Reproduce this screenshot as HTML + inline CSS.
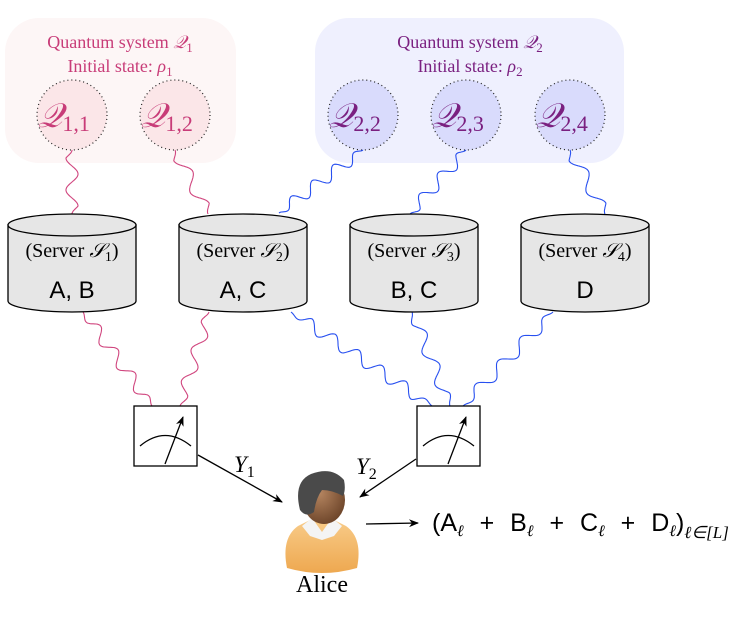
<!DOCTYPE html>
<html><head><meta charset="utf-8"><style>
html,body{margin:0;padding:0;background:#fff;}
svg{display:block;}
text{font-family:"Liberation Serif",serif;}
.sans{font-family:"Liberation Sans",sans-serif;}
</style></head><body>
<svg id="s" width="744" height="618" viewBox="0 0 744 618" xmlns="http://www.w3.org/2000/svg">
<defs>
<marker id="ah" markerWidth="10" markerHeight="8" refX="9" refY="4" orient="auto" markerUnits="userSpaceOnUse">
<path d="M0,0 L10,4 L0,8 L3,4 z" fill="#000"/></marker>
<radialGradient id="face" cx="0.4" cy="0.35" r="0.7"><stop offset="0" stop-color="#b58560"/><stop offset="1" stop-color="#6b4328"/></radialGradient>
<linearGradient id="body" x1="0" y1="0" x2="0" y2="1"><stop offset="0" stop-color="#f8cb88"/><stop offset="1" stop-color="#eea850"/></linearGradient>
</defs>
<rect x="5" y="18" width="231" height="145" rx="34" fill="#fdf6f6"/>
<rect x="315" y="18" width="309" height="145" rx="34" fill="#eff0fe"/>
<text x="120" y="48" text-anchor="middle" font-size="18" fill="#c83c78">Quantum system <tspan font-style="italic">𝒬</tspan><tspan font-size="13" dy="4">1</tspan></text>
<text x="120" y="72" text-anchor="middle" font-size="18" fill="#c83c78">Initial state: <tspan font-style="italic">ρ</tspan><tspan font-size="13" dy="4">1</tspan></text>
<text x="470" y="48" text-anchor="middle" font-size="18" fill="#7a2080">Quantum system <tspan font-style="italic">𝒬</tspan><tspan font-size="13" dy="4">2</tspan></text>
<text x="470" y="72" text-anchor="middle" font-size="18" fill="#7a2080">Initial state: <tspan font-style="italic">ρ</tspan><tspan font-size="13" dy="4">2</tspan></text>
<g stroke="#222" stroke-width="1.2" stroke-dasharray="1 3">
<circle cx="72" cy="115" r="35" fill="#fbe6e8"/>
<circle cx="175" cy="115" r="35" fill="#fbe6e8"/>
<circle cx="363" cy="115" r="35" fill="#d9dbfc"/>
<circle cx="466" cy="115" r="35" fill="#d9dbfc"/>
<circle cx="570" cy="115" r="35" fill="#d9dbfc"/>
</g>
<g font-size="34" font-style="italic" fill="#c83c78">
<text x="38" y="127">𝒬<tspan font-style="normal" font-size="22" dy="4">1,1</tspan></text>
<text x="141" y="127">𝒬<tspan font-style="normal" font-size="22" dy="4">1,2</tspan></text>
</g>
<g font-size="34" font-style="italic" fill="#7a2080">
<text x="329" y="127">𝒬<tspan font-style="normal" font-size="22" dy="4">2,2</tspan></text>
<text x="432" y="127">𝒬<tspan font-style="normal" font-size="22" dy="4">2,3</tspan></text>
<text x="536" y="127">𝒬<tspan font-style="normal" font-size="22" dy="4">2,4</tspan></text>
</g>
<g id="waves" fill="none" stroke-width="1.1"></g>
<g id="cyl"></g>
<g stroke="#000" stroke-width="1.3" fill="#fff">
<rect x="134" y="406" width="63" height="60"/>
<rect x="417" y="406" width="63" height="60"/>
</g>
<g stroke="#000" stroke-width="1.3" fill="none">
<path d="M140,446 Q165,425 191,446"/>
<path d="M423,446 Q448,425 474,446"/>
<line x1="165" y1="464" x2="183" y2="417" marker-end="url(#ah)"/>
<line x1="448" y1="464" x2="466" y2="417" marker-end="url(#ah)"/>
<line x1="198" y1="455" x2="282" y2="502" marker-end="url(#ah)"/>
<line x1="416" y1="459" x2="360" y2="497" marker-end="url(#ah)"/>
<line x1="366" y1="524" x2="418" y2="523" marker-end="url(#ah)"/>
</g>
<text x="234" y="472" font-size="23" font-style="italic">Y<tspan font-style="normal" font-size="16" dy="5">1</tspan></text>
<text x="356" y="474" font-size="23" font-style="italic">Y<tspan font-style="normal" font-size="16" dy="5">2</tspan></text>
<path d="M287,568 Q281,538 298,526 L310,520 L334,520 L346,526 Q363,538 357,568 Q322,578 287,568 z" fill="url(#body)"/>
<path d="M302,526 L312,518 L322,532 L332,518 L342,526 L334,536 L322,540 L310,536 z" fill="#f4f4f4"/>
<ellipse cx="324" cy="500" rx="21" ry="24" fill="url(#face)"/>
<path d="M300,510 Q293,482 311,474 Q332,466 344,480 Q346,490 343,496 Q332,490 322,490 Q316,498 314,512 Q306,518 300,510 z" fill="#4a4a4a"/>
<text x="322" y="592" text-anchor="middle" font-size="24">Alice</text>
<text x="432" y="531" font-size="25" class="sans" word-spacing="9">(A<tspan font-family="Liberation Serif" font-style="italic" font-size="16" dy="5">ℓ</tspan><tspan dy="-5"> + B</tspan><tspan font-family="Liberation Serif" font-style="italic" font-size="16" dy="5">ℓ</tspan><tspan dy="-5"> + C</tspan><tspan font-family="Liberation Serif" font-style="italic" font-size="16" dy="5">ℓ</tspan><tspan dy="-5"> + D</tspan><tspan font-family="Liberation Serif" font-style="italic" font-size="16" dy="5">ℓ</tspan><tspan dy="-5">)</tspan><tspan font-family="Liberation Serif" font-style="italic" font-size="17" dy="7">ℓ∈[L]</tspan></text>
</svg>
<script>
var NS="http://www.w3.org/2000/svg";
function wave(x1,y1,x2,y2,col){
 var dx=x2-x1,dy=y2-y1,L=Math.hypot(dx,dy),ux=dx/L,uy=dy/L,nx=-uy,ny=ux;
 var n=Math.max(1,Math.round(L/30)),d="M"+x1+","+y1;
 for(var i=1;i<=120;i++){var t=i/120,a=Math.sin(t*n*2*Math.PI)*6*Math.min(1,Math.min(t,1-t)*8);
  d+=" L"+(x1+dx*t+nx*a).toFixed(1)+","+(y1+dy*t+ny*a).toFixed(1);}
 var p=document.createElementNS(NS,"path");p.setAttribute("d",d);p.setAttribute("stroke",col);
 document.getElementById("waves").appendChild(p);}
var pk="#d0457e",bl="#2850f0";
wave(72,150,72,214,pk);wave(175,150,208,214,pk);wave(363,150,279,213,bl);
wave(466,150,410,214,bl);wave(570,150,605,214,bl);
wave(83,312,152,406,pk);wave(209,312,180,406,pk);wave(291,312,432,406,bl);
wave(412,312,450,406,bl);wave(553,312,463,406,bl);
var g=document.getElementById("cyl");
[[8,"1","A, B"],[179,"2","A, C"],[350,"3","B, C"],[521,"4","D"]].forEach(function(c){
 var x=c[0],w=128,cx=x+64;
 g.insertAdjacentHTML("beforeend",
 '<path d="M'+x+',225 L'+x+',301 A64,11 0 0 0 '+(x+w)+',301 L'+(x+w)+',225 z" fill="#e6e6e6" stroke="#000" stroke-width="1.3"/>'+
 '<ellipse cx="'+cx+'" cy="225" rx="64" ry="11" fill="#e6e6e6" stroke="#000" stroke-width="1.3"/>'+
 '<text x="'+cx+'" y="257" text-anchor="middle" font-size="20">(Server <tspan font-style="italic">𝒮</tspan><tspan font-size="14" dy="4">'+c[1]+'</tspan><tspan dy="-4">)</tspan></text>'+
 '<text x="'+cx+'" y="298" text-anchor="middle" font-size="24" class="sans">'+c[2]+'</text>');
});
</script>
</body></html>
